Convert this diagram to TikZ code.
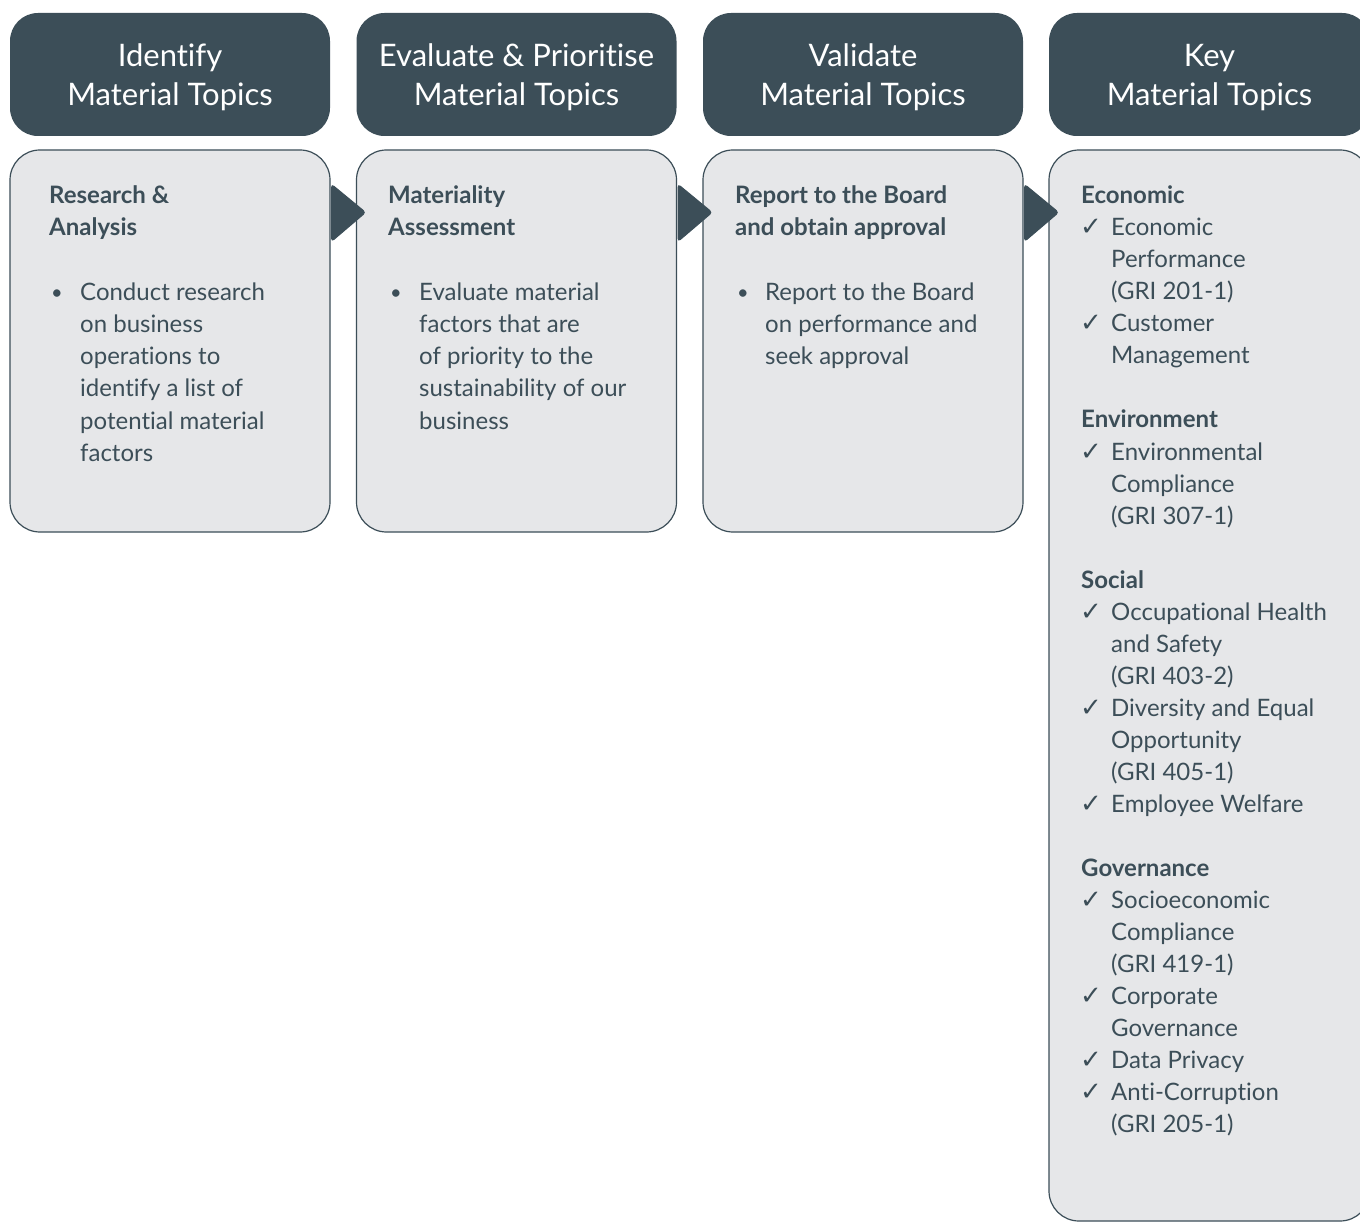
\documentclass[tikz,border=0pt]{standalone}
\usepackage{fontspec}
\setmainfont{Lato}[Ligatures=NoCommon]
\newfontfamily\symfont{DejaVu Sans}
\usetikzlibrary{calc}
\definecolor{slate}{HTML}{3C4E58}
\definecolor{panel}{HTML}{E6E7E9}
\begin{document}
\begin{tikzpicture}[x=1pt,y=-1pt,
 hdr/.style={fill=slate, rounded corners=28pt, minimum width=320pt, minimum height=123pt, inner sep=0pt, draw=none},
 panelbox/.style={fill=panel, draw=slate, line width=1.2pt, rounded corners=30pt, inner sep=0pt},
 htxt/.style={text=white, font=\fontsize{31}{36}\selectfont, anchor=base, inner sep=0pt},
 ttl/.style={text=slate, font=\bfseries\fontsize{24}{28}\selectfont, anchor=base west, inner sep=0pt},
 body/.style={text=slate, font=\fontsize{24}{28}\selectfont, anchor=base west, inner sep=0pt},
 bul/.style={text=slate, font=\fontsize{20}{28}\selectfont, anchor=base west, inner sep=0pt},
 chk/.style={text=slate, font=\symfont\fontsize{26}{28}\selectfont, anchor=base west, inner sep=0pt},
 tri/.style={fill=slate, draw=slate, line width=1pt, rounded corners=3pt}
]
\clip (0,0) rectangle (1360,1222);
\fill[white] (0,0) rectangle (1360,1222);

% headers
\node[hdr] (h1) at (170,74.5) {};
\node[hdr] (h2) at (516.5,74.5) {};
\node[hdr] (h3) at (863,74.5) {};
\node[hdr, minimum width=321pt] (h4) at (1209.5,74.5) {};
\node[htxt] (h1a) at (170,67) {Identify};
\node[htxt] (h1b) at (170,106) {Material Topics};
\node[htxt] (h2a) at (516.5,67) {Evaluate \& Prioritise};
\node[htxt] (h2b) at (516.5,106) {Material Topics};
\node[htxt] (h3a) at (863,67) {Validate};
\node[htxt] (h3b) at (863,106) {Material Topics};
\node[htxt] (h4a) at (1209.5,67) {Key};
\node[htxt] (h4b) at (1209.5,106) {Material Topics};

% panels
\node[panelbox, minimum width=320pt, minimum height=382pt] (p1) at (170,341) {};
\node[panelbox, minimum width=320pt, minimum height=382pt] (p2) at (516.5,341) {};
\node[panelbox, minimum width=320pt, minimum height=382pt] (p3) at (863,341) {};
\node[panelbox, minimum width=321pt, minimum height=1071pt] (p4) at (1209.5,685.5) {};

% arrows between panels
\foreach \a/\b in {p1/p2,p2/p3,p3/p4}{
  \fill[tri] ($(\a.north east)+(1,35)$) -- ($(\a.north east)+(35,63)$) -- ($(\a.north east)+(1,92)$) -- cycle;
}

% column 1
\node[ttl] (t1a) at (49,204) {Research \&};
\node[ttl] (t1b) at (49,236) {Analysis};
\node[bul] (b1) at (51,300) {•};
\foreach \n/\t in {0/Conduct research,1/on business,2/operations to,3/identify a list of,4/potential material,5/factors}{
  \node[body] (c1l\n) at (80,301+32*\n) {\t};
}

% column 2
\node[ttl] (t2a) at (388,204) {Materiality};
\node[ttl] (t2b) at (388,236) {Assessment};
\node[bul] (b2) at (390,300) {•};
\foreach \n/\t in {0/Evaluate material,1/factors that are,2/of priority to the,3/sustainability of our,4/business}{
  \node[body] (c2l\n) at (419,301+32*\n) {\t};
}

% column 3
\node[ttl] (t3a) at (735,204) {Report to the Board};
\node[ttl] (t3b) at (735,236) {and obtain approval};
\node[bul] (b3) at (737,300) {•};
\foreach \n/\t in {0/Report to the Board,1/on performance and,2/seek approval}{
  \node[body] (c3l\n) at (765,301+32*\n) {\t};
}

% column 4
\foreach \n/\t in {0/Economic,7/Environment,12/Social,21/Governance}{
  \node[ttl] (k\n) at (1081,204+32*\n) {\t};
}
\foreach \n in {1,4,8,13,16,19,22,25,27,28}{
  \node[chk] (ck\n) at (1080,204+32*\n) {✓};
}
\foreach \n/\t in {1/Economic,2/Performance,3/(GRI 201-1),4/Customer,5/Management,
  8/Environmental,9/Compliance,10/(GRI 307-1),
  13/Occupational Health,14/and Safety,15/(GRI 403-2),16/Diversity and Equal,17/Opportunity,18/(GRI 405-1),19/Employee Welfare,
  22/Socioeconomic,23/Compliance,24/(GRI 419-1),25/Corporate,26/Governance,27/Data Privacy,28/Anti-Corruption,29/(GRI 205-1)}{
  \node[body] (k\n) at (1111,204+32*\n) {\t};
}
\end{tikzpicture}
\end{document}
